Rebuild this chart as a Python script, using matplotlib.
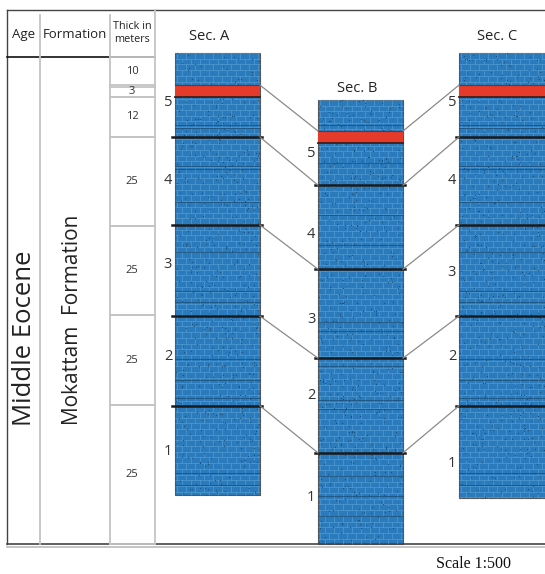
import numpy as np
import matplotlib.pyplot as plt
from matplotlib.collections import LineCollection
from matplotlib.patches import Rectangle

# ---- data (metres above base of Sec. B) ----
thick_labels = ['10', '3', '12', '25', '25', '25', '25']
thick_tops = [136.8, 128.4, 125.6, 114.3, 89.3, 64.3, 39.0]
thick_bots = [128.9, 125.6, 114.3, 89.3, 64.3, 39.0, 0.0]

sec_names = ['Sec. A', 'Sec. B', 'Sec. C']
sec_top = [137.9, 124.7, 137.9]
sec_base = [13.8, 0.0, 12.9]
red_top = [128.9, 116.0, 128.9]
red_base = [125.6, 112.6, 125.6]
# black unit boundaries, from top (unit 5/4) downwards (unit 2/1)
sec_A_bounds = [114.3, 89.6, 64.0, 38.8]
sec_B_bounds = [100.8, 77.2, 52.2, 25.6]
sec_C_bounds = [114.3, 89.6, 64.0, 38.8]
# thin bedding lines inside the units
sec_A_thin = [117.6, 116.8, 106.2, 105.3, 96.0, 82.0, 71.0, 68.0, 52.0, 46.0, 41.0, 20.0, 16.5]
sec_B_thin = [117.8, 107.0, 92.4, 84.0, 62.4, 59.8, 50.0, 40.5, 38.0, 19.0, 13.5, 8.0]
sec_C_thin = [117.6, 116.8, 106.2, 105.3, 96.0, 82.0, 71.0, 68.0, 52.0, 46.0, 41.0, 20.0, 16.5]
unit_nums = ['5', '4', '3', '2', '1']
unit_lab_A = [124.0, 102.0, 78.5, 52.8, 26.1]
unit_lab_B = [109.8, 86.8, 63.2, 41.6, 13.2]
unit_lab_C = [124.0, 102.0, 76.4, 52.8, 22.5]

PX = 3.56  # px per metre


def Y(px):
    return (544 - px) / PX


fig = plt.figure(figsize=(5.45, 5.74), dpi=100)
ax = fig.add_axes([0, 0, 1, 1])
ax.set_xlim(0, 545)
ax.set_ylim(Y(574), Y(0))
ax.axis('off')

font = 'Open Sans'
grey = '#c4c4c4'
dark = '#333333'

# frame
ax.plot([7, 545], [Y(10), Y(10)], color='#444444', lw=1.0)
ax.plot([7, 7], [Y(10), Y(544)], color='#444444', lw=1.0)
ax.plot([7, 545], [Y(544), Y(544)], color='#444444', lw=1.2)
ax.plot([7, 545], [Y(546.5), Y(546.5)], color='#bbbbbb', lw=1.2)
ax.plot([7, 155], [Y(57), Y(57)], color='#111111', lw=1.2)
for xd, y0 in [(40, 15), (110, 15), (155, 10)]:
    ax.plot([xd, xd], [Y(y0), Y(544)], color=grey, lw=1.3)

# header
ax.text(24, Y(34), 'Age', ha='center', va='center', fontsize=9.5, family=font, color='#222222')
ax.text(75, Y(34), 'Formation', ha='center', va='center', fontsize=9.5, family=font, color='#222222')
ax.text(132, Y(33), 'Thick in\nmeters', ha='center', va='center', fontsize=7.8,
        family=font, color='#222222', linespacing=1.3)
ax.text(25, Y(338), 'Middle Eocene', rotation=90, ha='center', va='center',
        fontsize=18.5, family=font, color='#222222')
ax.text(73, Y(320), 'Mokattam  Formation', rotation=90, ha='center', va='center',
        fontsize=15, family=font, color='#222222')

# thickness boxes
for lab, t, b in zip(thick_labels, thick_tops, thick_bots):
    ax.plot([110, 155], [t, t], color=grey, lw=1.3)
    ax.plot([110, 155], [b, b], color=grey, lw=1.3)
    ax.text(132, (t + b) / 2, lab, ha='center', va='center', fontsize=8,
            family=font, color='#333333')

blue = '#2b7abb'
mortar = '#60a8da'


def bricks(x0, x1, y0, y1):
    segs = []
    step = 1.6
    ys = np.arange(y1, y0, -step)
    for i, yy in enumerate(ys):
        segs.append([(x0, yy), (x1, yy)])
        off = 4.5 if i % 2 else 0
        for xx in np.arange(x0 + off + 2, x1, 9):
            segs.append([(xx, yy), (xx, max(yy - step, y0))])
    ax.add_collection(LineCollection(segs, colors=mortar, linewidths=0.5, alpha=0.7, zorder=2))


def dots(x0, x1, y0, y1, color, seed):
    rng = np.random.default_rng(seed)
    n = int((x1 - x0) * (y1 - y0) * 0.05)
    ax.scatter(rng.uniform(x0 + 1, x1 - 1, n), rng.uniform(y0, y1, n), s=0.7,
               color=color, lw=0, zorder=3)


cols_x = [(175, 260), (318, 403), (459, 548)]
bounds = [sec_A_bounds, sec_B_bounds, sec_C_bounds]
thins = [sec_A_thin, sec_B_thin, sec_C_thin]
labs = [unit_lab_A, unit_lab_B, unit_lab_C]
title_pos = [(209, 37), (357, 88), (497, 37)]

for i in range(3):
    x0, x1 = cols_x[i]
    top, base = sec_top[i], sec_base[i]
    ax.add_patch(Rectangle((x0, base), x1 - x0, top - base, facecolor=blue,
                           edgecolor='#555555', lw=0.8, zorder=1))
    bricks(x0, x1, base, top)
    dots(x0, x1, base, top, '#1b4f7a', i)
    for yy in thins[i]:
        ax.plot([x0, x1], [yy, yy], color='#1d4f78', lw=0.7, alpha=0.8, zorder=3)
    # red marker bed
    ax.add_patch(Rectangle((x0, red_base[i]), x1 - x0, red_top[i] - red_base[i],
                           facecolor='#e63b2a', edgecolor='none', zorder=4))
    dots(x0, x1, red_base[i], red_top[i], '#8a1a10', 10 + i)
    ax.plot([x0, x1], [red_base[i], red_base[i]], color='#3a2020', lw=1.3, zorder=5)
    ax.plot([x0, x1], [red_top[i], red_top[i]], color='#5a3a3a', lw=0.8, zorder=5)
    for yy in bounds[i]:
        ax.plot([x0 - 3, x1 + 2], [yy, yy], color='#1a1a1a', lw=1.8, zorder=5)
    for num, yy in zip(unit_nums, labs[i]):
        ax.text(x0 - 7, yy, num, ha='center', va='center', fontsize=10.5,
                family=font, color=dark)
    ax.text(title_pos[i][0], Y(title_pos[i][1]), sec_names[i], ha='center', va='center',
            fontsize=10.5, family=font, color='#222222')

# correlation lines
A_lines = [red_top[0]] + sec_A_bounds
B_lines = [red_top[1]] + sec_B_bounds
C_lines = [red_top[2]] + sec_C_bounds
for a, b, c in zip(A_lines, B_lines, C_lines):
    ax.plot([260, 318], [a, b], color='#8a8a8a', lw=0.9, zorder=6)
    ax.plot([403, 459], [b, c], color='#8a8a8a', lw=0.9, zorder=6)

ax.text(473, Y(564), 'Scale 1:500', ha='center', va='center', fontsize=11.5,
        family='Liberation Serif', color='#111111')

fig.savefig('out.png', dpi=100)
